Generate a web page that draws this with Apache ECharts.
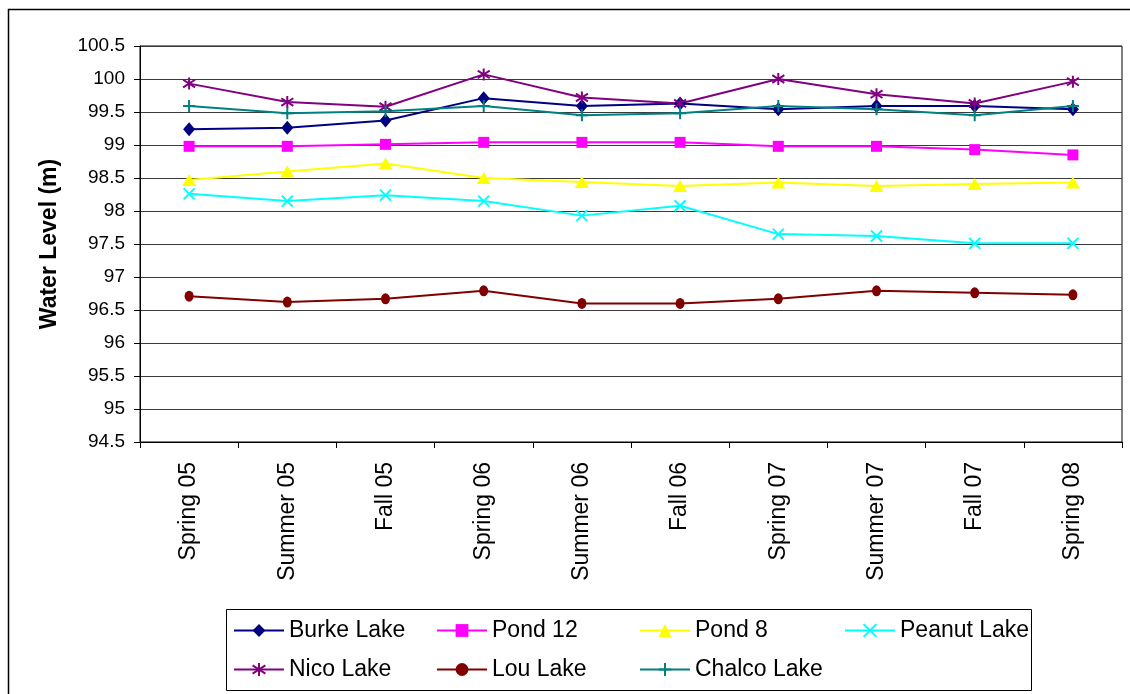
<!DOCTYPE html>
<html>
<head>
<meta charset="utf-8">
<script src="https://cdn.jsdelivr.net/npm/echarts@6/dist/echarts.min.js"></script>
<style>html,body{margin:0;padding:0;background:#fff;}#c{width:1130px;height:694px;}</style>
</head>
<body>
<div id="c"></div>
<script>
const categories = ['Spring 05','Summer 05','Fall 05','Spring 06','Summer 06','Fall 06','Spring 07','Summer 07','Fall 07','Spring 08'];
const burke  = [99.24, 99.26, 99.37, 99.71, 99.59, 99.63, 99.54, 99.59, 99.59, 99.54];
const pond12 = [98.98, 98.98, 99.01, 99.04, 99.04, 99.04, 98.98, 98.98, 98.93, 98.85];
const pond8  = [98.47, 98.60, 98.72, 98.50, 98.44, 98.38, 98.43, 98.38, 98.41, 98.43];
const peanut = [98.26, 98.15, 98.24, 98.15, 97.93, 98.08, 97.65, 97.62, 97.51, 97.51];
const nico   = [99.93, 99.65, 99.58, 100.07, 99.72, 99.63, 100.00, 99.77, 99.63, 99.96];
const lou    = [96.71, 96.62, 96.67, 96.79, 96.60, 96.60, 96.67, 96.79, 96.76, 96.73];
const chalco = [99.59, 99.48, 99.51, 99.59, 99.45, 99.48, 99.59, 99.54, 99.45, 99.59];
const yMin = 94.5, yMax = 100.5, yStep = 0.5;

const FONT = '"Liberation Sans", Arial, sans-serif';
const X_PATH = 'path://M0,0L10,10M10,0L0,10';
const STAR_PATH = 'path://M5,0L5,10M0.8,1.8L9.2,8.2M9.2,1.8L0.8,8.2';
const PLUS_PATH = 'path://M5,0L5,10M0,5L10,5';

function mk(name, data, color, symbol, size, stroke) {
  return {
    name, type: 'line', data,
    symbol, symbolSize: size,
    lineStyle: { color, width: 2 },
    itemStyle: stroke ? { color, borderColor: color, borderWidth: 2 } : { color, borderWidth: 0 },
    emphasis: { disabled: true },
    z: 2
  };
}

const chart = echarts.init(document.getElementById('c'));
const legendBase = {
  orient: 'vertical', top: 619, itemWidth: 50, itemHeight: 16, itemGap: 16, padding: 0,
  textStyle: { fontFamily: FONT, fontSize: 23, color: '#000', lineHeight: 22 },
  selectedMode: false
};
chart.setOption({
  animation: false,
  backgroundColor: '#fff',
  grid: { left: 140, right: 8, top: 46, bottom: 252, show: true, borderColor: '#000', borderWidth: 1 },
  xAxis: {
    type: 'category', data: categories, boundaryGap: true,
    axisLine: { lineStyle: { color: '#000', width: 1 } },
    axisTick: { show: true, interval: 0, length: 6, lineStyle: { color: '#000' } },
    axisLabel: { rotate: 90, interval: 0, margin: 20, fontFamily: FONT, fontSize: 23, color: '#000' },
    splitLine: { show: false }
  },
  yAxis: {
    type: 'value', min: yMin, max: yMax, interval: yStep,
    name: 'Water Level (m)', nameLocation: 'middle', nameRotate: 90, nameGap: 79,
    nameTextStyle: { fontFamily: FONT, fontSize: 23, fontWeight: 'bold', color: '#000' },
    axisLine: { show: true, lineStyle: { color: '#000', width: 1 } },
    axisTick: { show: true, length: 6, lineStyle: { color: '#000' } },
    axisLabel: { margin: 15, fontFamily: FONT, fontSize: 19, color: '#000' },
    splitLine: { show: true, lineStyle: { color: '#3a3a3a', width: 1 } }
  },
  legend: [
    Object.assign({}, legendBase, { left: 233, data: ['Burke Lake', 'Nico Lake'] }),
    Object.assign({}, legendBase, { left: 436, data: ['Pond 12', 'Lou Lake'] }),
    Object.assign({}, legendBase, { left: 639, data: ['Pond 8', 'Chalco Lake'] }),
    Object.assign({}, legendBase, { left: 844, data: ['Peanut Lake'] })
  ],
  graphic: [
    { type: 'rect', shape: { x: 8.5, y: 9.5, width: 1140, height: 700 }, style: { fill: 'none', stroke: '#000', lineWidth: 1.5 }, silent: true, z: -1 },
    { type: 'rect', shape: { x: 226.5, y: 609.5, width: 805, height: 81 }, style: { fill: '#fff', stroke: '#000', lineWidth: 1 }, silent: true, z: -1 }
  ],
  series: [
    mk('Burke Lake', burke, '#000080', 'diamond', [12, 14], false),
    mk('Pond 12', pond12, '#FF00FF', 'rect', 11, false),
    mk('Pond 8', pond8, '#FFFF00', 'triangle', [14, 12], false),
    mk('Peanut Lake', peanut, '#00FFFF', X_PATH, 11, true),
    mk('Nico Lake', nico, '#800080', STAR_PATH, 12, true),
    mk('Lou Lake', lou, '#800000', 'circle', [9, 11], false),
    mk('Chalco Lake', chalco, '#008080', PLUS_PATH, 12, true)
  ]
});
</script>
</body>
</html>
